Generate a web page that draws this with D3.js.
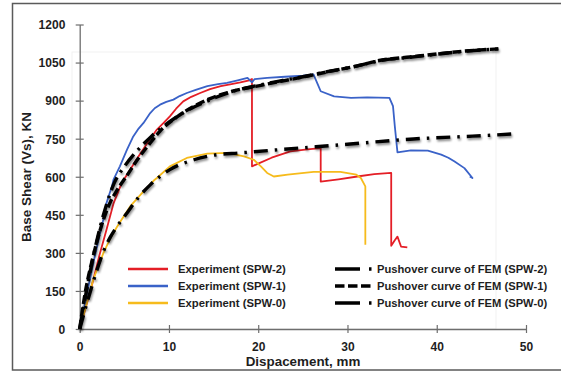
<!DOCTYPE html>
<html>
<head>
<meta charset="utf-8">
<script src="https://cdn.jsdelivr.net/npm/d3@7"></script>
<style>
  html, body { margin: 0; padding: 0; background: #fff; }
  svg { display: block; }
  text { font-family: "Liberation Sans", Arial, sans-serif; font-weight: bold; fill: #1e1e1e; }
</style>
</head>
<body>
<svg id="chart" width="561" height="374"></svg>
<script>
// Base shear vs. displacement: test results and FEM pushover curves
const xTicks = [0, 10, 20, 30, 40, 50];
const yTicks = [0, 150, 300, 450, 600, 750, 900, 1050, 1200];

// Experiment (SPW-2): [displacement mm, base shear kN]
const expSPW2 = [[0,0],[0.8,100],[1.5,190],[2.2,290],[3.0,391],[3.8,496],[4.7,575],[5.65,628],[6.3,665],[7.1,707],[7.8,745],[8.65,786],[9.4,812],[10.1,838],[10.8,868],[11.6,897],[12.5,915],[13.5,930],[14.6,945],[15.8,957],[17,965],[18,972],[19.0,980],[19.3,985],[19.3,641],[20.0,652],[21.5,675],[23.6,700],[25.5,708],[27.0,713],[27.0,581],[29,590],[31.1,601],[33,610],[34.9,615],[34.9,328],[35.3,350],[35.6,364],[36.0,325],[36.7,322]];
// Experiment (SPW-1)
const expSPW1 = [[0,0],[0.7,120],[1.4,240],[2.1,350],[2.7,440],[3.0,496],[3.4,540],[3.6,560],[3.8,590],[4.5,641],[5.3,707],[6.0,759],[6.6,790],[7.15,812],[7.9,851],[8.4,870],[9.0,884],[9.7,895],[10.5,904],[11.2,918],[12.0,930],[13,942],[14.3,957],[15.5,965],[16.5,970],[17.7,980],[18.8,990],[19.3,972],[19.6,985],[21,990],[23,994],[25,998],[26.2,1003],[26.6,970],[27.0,937],[28.5,917],[30.4,911],[32.2,913],[34.7,911],[35.1,878],[35.3,800],[35.6,696],[37.1,704],[39.0,703],[40.5,687],[41.3,675],[42.0,660],[43.1,634],[44.0,595],[43.7,601]];
// Experiment (SPW-0)
const expSPW0 = [[0,0],[0.7,90],[1.5,193],[2.65,299],[3.4,355],[4.2,404],[5.65,483],[7.15,542],[8.3,585],[8.65,595],[10.1,641],[12.0,674],[14.3,691],[16.5,694],[18.4,680],[19.5,667],[20.3,641],[21.0,615],[21.75,601],[23.3,608],[26.2,619],[29.2,619],[31.0,608],[31.5,595],[32.0,562],[32.0,332]];

// Pushover curves of FEM
const femSPW2 = [[0,0],[1,195],[2,360],[3,490],[3.8,570],[5,640],[6.5,705],[8,758],[10,815],[12,860],[14.6,903],[17,935],[20,960],[22.5,978],[25,994],[28,1016],[31,1036],[33.7,1058],[37,1071],[40,1083],[43,1094],[46.9,1104]];
const femSPW1 = [[0,0],[0.6,140],[1.5,285],[2.65,430],[3.5,505],[4.2,548],[5.3,605],[6.4,664],[7.9,733],[9.0,780],[10.9,836],[12.5,872],[14.6,908],[17,936],[20.3,960],[22.5,976],[25,993],[28,1015],[31,1036],[33.7,1059],[37,1072],[40,1084],[43,1095],[46.9,1104]];
const femSPW0 = [[0,0],[1,125],[2,240],[2.65,305],[3.4,360],[4.2,405],[5.3,457],[6.5,515],[7.9,568],[10.1,628],[12.8,667],[15,685],[18,694],[22.5,707],[30,728],[37.4,749],[44,760],[48.7,769]];

const svg = d3.select("#chart");
const x = d3.scaleLinear().domain([0, 50]).range([79.7, 526]);
const y = d3.scaleLinear().domain([0, 1200]).range([329, 24.5]);

// soft shadow under the FEM curves
const defs = svg.append("defs");
const f = defs.append("filter").attr("id", "soft").attr("x", "-5%").attr("y", "-5%").attr("width", "110%").attr("height", "110%");
f.append("feGaussianBlur").attr("in", "SourceAlpha").attr("stdDeviation", 1.3).attr("result", "b");
f.append("feOffset").attr("in", "b").attr("dx", 1).attr("dy", 1.5).attr("result", "o");
f.append("feComponentTransfer").attr("in", "o").attr("result", "s")
  .append("feFuncA").attr("type", "linear").attr("slope", 0.45);
const m = f.append("feMerge");
m.append("feMergeNode").attr("in", "s");
m.append("feMergeNode").attr("in", "SourceGraphic");

// outer frame
svg.append("rect").attr("x", 12.5).attr("y", 3.5).attr("width", 570).attr("height", 366.5)
  .attr("fill", "none").attr("stroke", "#5a5a5a").attr("stroke-width", 1.5);

// faint plot-area outline
svg.append("rect").attr("x", 72).attr("y", 52).attr("width", 424).attr("height", 277)
  .attr("fill", "none").attr("stroke", "#f1f1f1").attr("stroke-width", 1);

// axes
const gx = svg.append("g").attr("transform", `translate(0,${y(0)})`)
  .call(d3.axisBottom(x).tickValues(xTicks).tickFormat(d3.format("d")).tickSizeInner(4).tickSizeOuter(0));
const gy = svg.append("g").attr("transform", `translate(${x(0)},0)`)
  .call(d3.axisLeft(y).tickValues(yTicks).tickFormat(d3.format("d")).tickSizeInner(4).tickSizeOuter(0));
[gx, gy].forEach(g => {
  g.select(".domain").attr("stroke", "#6e6e6e").attr("stroke-width", 1.3);
  g.selectAll(".tick line").attr("stroke", "#6e6e6e").attr("stroke-width", 1.2);
  g.selectAll(".tick text").attr("font-size", 12).attr("fill", "#1e1e1e")
    .attr("font-family", "'Liberation Sans', Arial, sans-serif").attr("font-weight", "bold");
});
gx.selectAll(".tick line").attr("y1", -4).attr("y2", 4);
gx.selectAll(".tick text").attr("y", 21.5).attr("dy", 0);
gy.selectAll(".tick line").attr("x1", -4).attr("x2", 4);
gy.selectAll(".tick text").attr("x", -14.4).attr("dy", "0.36em");

// axis titles
svg.append("text").attr("x", 303).attr("y", 366).attr("text-anchor", "middle")
  .attr("font-size", 13.4).text("Dispacement, mm");
svg.append("text").attr("transform", "translate(31,177) rotate(-90)").attr("text-anchor", "middle")
  .attr("font-size", 13.5).text("Base Shear (Vs), KN");

const line = d3.line().x(d => x(d[0])).y(d => y(d[1]));
const smooth = d3.line().x(d => x(d[0])).y(d => y(d[1])).curve(d3.curveMonotoneX);

const expSeries = [
  { name: "Experiment (SPW-2)", data: expSPW2, color: "#e41e26" },
  { name: "Experiment (SPW-1)", data: expSPW1, color: "#3a62c8" },
  { name: "Experiment (SPW-0)", data: expSPW0, color: "#f6bb1c" }
];
const femSeries = [
  { name: "Pushover curve of FEM (SPW-2)", data: femSPW2, dash: "14,6,2.5,6", legDash: "25,9,2.5,20" },
  { name: "Pushover curve of FEM (SPW-1)", data: femSPW1, dash: "9,3.5", legDash: "9.5,3.5" },
  { name: "Pushover curve of FEM (SPW-0)", data: femSPW0, dash: "14,7,2.5,7", legDash: "25,9,2.5,20" }
];

// experiment curves
svg.append("g").selectAll("path").data(expSeries).join("path")
  .attr("d", s => line(s.data)).attr("fill", "none")
  .attr("stroke", s => s.color).attr("stroke-width", 1.8).attr("stroke-linejoin", "round");

// FEM curves
svg.append("g").attr("filter", "url(#soft)").selectAll("path").data(femSeries).join("path")
  .attr("d", s => smooth(s.data)).attr("fill", "none")
  .attr("stroke", "#000").attr("stroke-width", 3.4).attr("stroke-dasharray", s => s.dash);

// legend: experiments
const legY = [269, 286, 303];
const lg1 = svg.append("g");
expSeries.forEach((s, i) => {
  lg1.append("line").attr("x1", 128).attr("x2", 168).attr("y1", legY[i]).attr("y2", legY[i])
    .attr("stroke", s.color).attr("stroke-width", 2.5);
  lg1.append("text").attr("x", 178).attr("y", legY[i] + 4).attr("font-size", 11.3).text(s.name);
});
// legend: FEM
const lg2 = svg.append("g");
femSeries.forEach((s, i) => {
  lg2.append("line").attr("x1", 335).attr("x2", 372).attr("y1", legY[i]).attr("y2", legY[i])
    .attr("stroke", "#000").attr("stroke-width", 3.4).attr("stroke-dasharray", s.legDash);
  lg2.append("text").attr("x", 377).attr("y", legY[i] + 4).attr("font-size", 11.2).text(s.name);
});
</script>
</body>
</html>
